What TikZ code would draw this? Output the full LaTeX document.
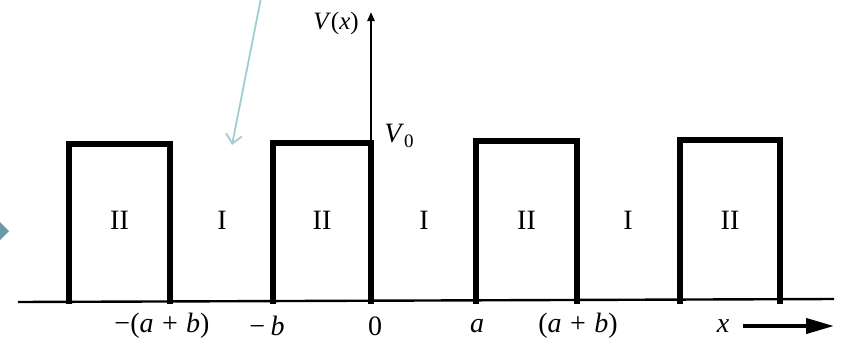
\documentclass[tikz,border=0pt]{standalone}
\usepackage{fontspec}
\setmainfont{Liberation Serif}
\usetikzlibrary{arrows.meta}
\definecolor{callout}{RGB}{160,205,210}
\definecolor{marker}{RGB}{105,155,165}
\tikzset{
  barrier/.style={line width=5.5pt, line cap=rect},
  axisline/.style={line width=2.4pt},
  lbl/.style={font=\fontsize{28}{30}\selectfont, inner sep=0pt},
}
\newcommand{\pl}{\hspace{0.3em}+\hspace{0.3em}}
\begin{document}
\begin{tikzpicture}[x=1pt,y=-1pt]
\useasboundingbox (0,0) rectangle (842,340);
\fill[white] (0,0) rectangle (842,340);
% baseline
\coordinate (ax0) at (18,302);
\coordinate (ax1) at (834,299);
\draw[axisline] (ax0) -- (ax1);
% barriers
\foreach \l/\r/\t [count=\i] in {69/170/144, 273/371/143, 476/577/141, 680/780/140}{
  \draw[barrier] (\l,301) -- (\l,\t) -- (\r,\t) -- (\r,301);
  \node[lbl] (II\i) at ({(\l+\r)/2},220) {II};
}
\node[lbl] (I1) at (222,220) {I};
\node[lbl] (I2) at (424,220) {I};
\node[lbl] (I3) at (628,220) {I};
% V axis
\coordinate (vb) at (371,140);
\coordinate (vt) at (371,12);
\draw[axisline, -{Triangle[length=9pt,width=7pt]}] (vb) -- (vt);
\node[lbl, font=\fontsize{25}{27}\selectfont] (Vx) at (336,23) {\textit{V}(\textit{x})};
\node[lbl] (V0) at (399,136) {\textit{V}\raisebox{-0.35ex}{\fontsize{19}{20}\selectfont 0}};
% tick labels
\node[lbl] (t1) at (162,326) {−(\textit{a}\pl\textit{b})};
\node[lbl] (t2) at (267,326) {−\hspace{0.2em}\textit{b}};
\node[lbl] (t3) at (375,326) {0};
\node[lbl] (t4) at (477,326) {\textit{a}};
\node[lbl] (t5) at (578,326) {(\textit{a}\pl\textit{b})};
\node[lbl] (xl) at (723,326) {\textit{x}};
\coordinate (xa0) at (743,326);
\coordinate (xa1) at (834,326);
\draw[line width=4pt, -{Triangle[length=28pt,width=15pt]}] (xa0) -- (xa1);
% callout arrow
\coordinate (c0) at (261,-2);
\coordinate (c1) at (232,145);
\draw[callout, line width=1.8pt, -{Straight Barb[length=9pt,width=16pt]}] (c0) -- (c1);
% side marker
\fill[marker] (-9,231) -- (0,222) -- (9,231) -- (0,240) -- cycle;
\end{tikzpicture}
\end{document}
